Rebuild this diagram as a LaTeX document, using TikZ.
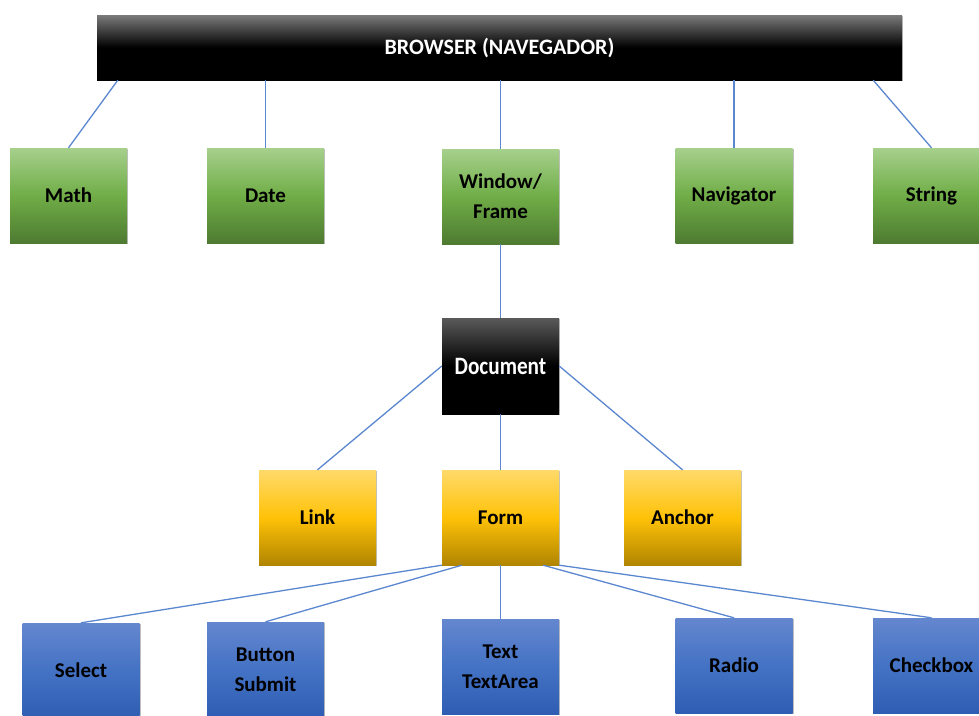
\documentclass[tikz,border=0pt]{standalone}
\usepackage{fontspec}
\setmainfont{Carlito}
\usetikzlibrary{calc,shadows}
\definecolor{lineblue}{HTML}{5B87CF}
\definecolor{gtop}{HTML}{A6D08C}
\definecolor{gmid}{HTML}{70AD47}
\definecolor{gbot}{HTML}{4E7B31}
\definecolor{ytop}{HTML}{FFDA6A}
\definecolor{ymid}{HTML}{FFC208}
\definecolor{ybot}{HTML}{B08500}
\definecolor{btop}{HTML}{6487CF}
\definecolor{bmid}{HTML}{4472C4}
\definecolor{bbot}{HTML}{2F5DB3}
\definecolor{ktop}{HTML}{5A5A5A}
\tikzset{
  box/.style={minimum width=117pt, minimum height=95pt, inner sep=2pt, align=center,
    font=\bfseries\fontsize{21}{30}\selectfont,
    drop shadow={shadow xshift=1pt, shadow yshift=-1pt, opacity=0.25, fill=black}},
  greenbox/.style={box, top color=gtop, bottom color=gbot, middle color=gmid},
  yellowbox/.style={box, top color=ytop, bottom color=ybot, middle color=ymid},
  bluebox/.style={box, top color=btop, bottom color=bbot, middle color=bmid},
  blackbox/.style={box, top color=ktop, bottom color=black, middle color=black, text=white},
  conn/.style={draw=lineblue, line width=1.3pt}
}
\begin{document}
\begin{tikzpicture}[x=1pt,y=-1pt]
\useasboundingbox (0,0) rectangle (979,715);
\node[box, minimum width=805pt, minimum height=65pt, top color=ktop!80, bottom color=black, middle color=black, text=white,
  font=\bfseries\fontsize{22}{26}\selectfont] (browser) at (499.5,47.5) {BROWSER (NAVEGADOR)};
\node[greenbox] (math) at (68.5,195.5) {Math};
\node[greenbox] (date) at (265.5,195.5) {Date};
\node[greenbox] (window) at (500.5,196.5) {Window/\\Frame};
\node[greenbox] (nav) at (734,195.5) {Navigator};
\node[greenbox] (string) at (931.5,195.5) {String};
\node[blackbox, minimum height=96pt, font=\bfseries\fontsize{25}{30}\selectfont] (doc) at (500.5,366) {\scalebox{0.85}[1]{Document}};
\node[yellowbox] (link) at (317.5,517.5) {Link};
\node[yellowbox] (form) at (500.5,517.5) {Form};
\node[yellowbox] (anchor) at (682.5,517.5) {Anchor};
\node[bluebox] (select) at (81,670.5) {Select};
\node[bluebox] (button) at (265.5,669.5) {Button\\Submit};
\node[bluebox] (text) at (500.5,666.5) {Text\\TextArea};
\node[bluebox] (radio) at (734,665.5) {Radio};
\node[bluebox] (check) at (931.5,665.5) {Checkbox};
\draw[conn] ([xshift=21pt]browser.south west) -- (math.north);
\draw[conn] (browser.south -| date.north) -- (date.north);
\draw[conn] (browser.south -| window.north) -- (window.north);
\draw[conn] (browser.south -| nav.north) -- (nav.north);
\draw[conn] ([xshift=-29pt]browser.south east) -- (string.north);
\draw[conn] (window.south) -- (doc.north);
\draw[conn] (doc.west) -- (link.north);
\draw[conn] (doc.south) -- (form.north);
\draw[conn] (doc.east) -- (anchor.north);
\draw[conn] (form.south west) -- (select.north);
\draw[conn] ([xshift=20pt]form.south west) -- (button.north);
\draw[conn] (form.south) -- (text.north);
\draw[conn] ([xshift=-16pt]form.south east) -- (radio.north);
\draw[conn] (form.south east) -- (check.north);
\end{tikzpicture}
\end{document}
